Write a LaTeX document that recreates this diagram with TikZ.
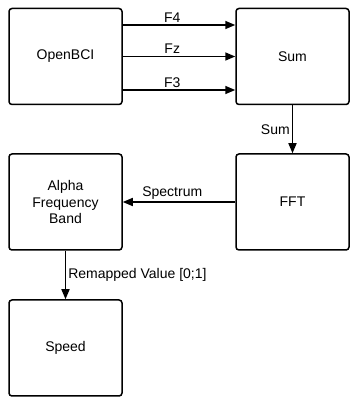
\documentclass[tikz,border=0pt]{standalone}
\usepackage{fontspec}
\setmainfont{Liberation Sans}
\usetikzlibrary{arrows.meta}
\begin{document}
\begin{tikzpicture}[x=1pt,y=1pt,
  blk/.style={draw, line width=1.5pt, rounded corners=3pt, minimum width=113pt, minimum height=96pt, inner sep=2pt, align=center, font=\fontsize{14}{16.5}\selectfont},
  arr/.style={draw, line width=1.5pt, -{Triangle[length=10pt,width=8pt]}},
  lbl/.style={font=\fontsize{14}{16}\selectfont, inner sep=2pt}]
\useasboundingbox (0,0) rectangle (350,397);
\node[blk] (ob) at (65.5,340.5) {OpenBCI};
\node[blk] (sum) at (292.5,340.5) {Sum};
\node[blk] (al) at (65.5,195) {Alpha\\Frequency\\Band};
\node[blk] (fft) at (292.5,195) {FFT};
\node[blk] (sp) at (65.5,49) {Speed};
\draw[arr] ([yshift=31.5pt]ob.east) -- node[lbl,pos=0.44,above]{F4} ([yshift=31.5pt]sum.west);
\draw[arr] (ob.east) -- node[lbl,pos=0.44,above]{Fz} (sum.west);
\draw[arr] ([yshift=-33.5pt]ob.east) -- node[lbl,pos=0.44,above]{F3} ([yshift=-33.5pt]sum.west);
\draw[arr] (sum.south) -- node[lbl,left]{Sum} (fft.north);
\draw[arr] (fft.west) -- node[lbl,pos=0.56,above]{Spectrum} (al.east);
\draw[arr] (al.south) -- node[lbl,right]{Remapped Value [0;1]} (sp.north);
\end{tikzpicture}
\end{document}
